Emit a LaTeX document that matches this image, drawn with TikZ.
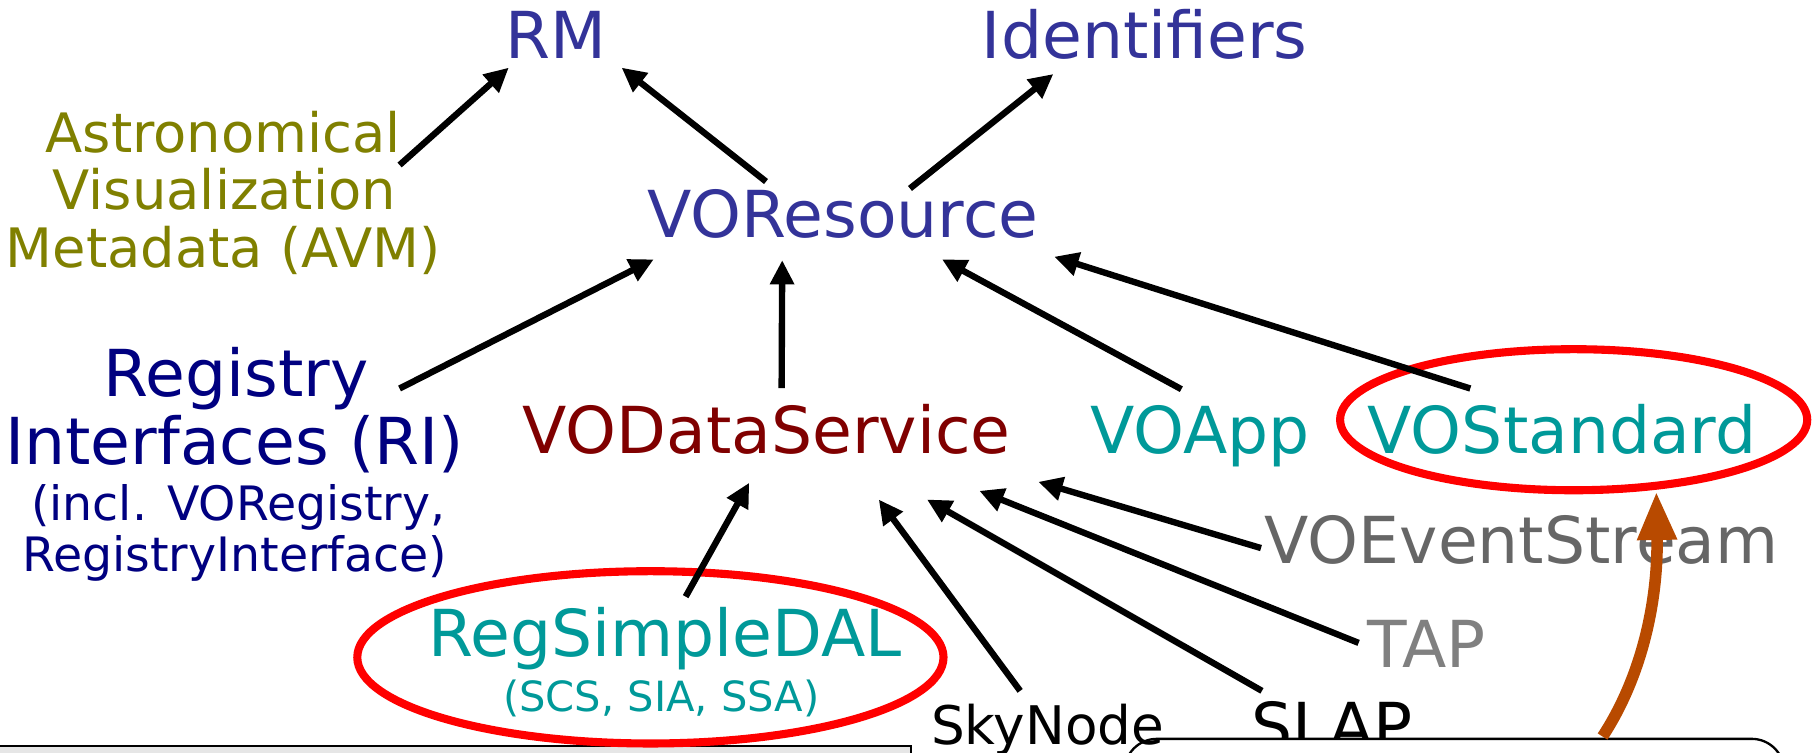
\documentclass[tikz,border=0pt]{standalone}
\usepackage{fontspec}
\setmainfont{DejaVu Sans}
\usetikzlibrary{arrows.meta}
\definecolor{voblue}{HTML}{333399}
\definecolor{avmolive}{HTML}{808000}
\definecolor{rinavy}{HTML}{000080}
\definecolor{dsmaroon}{HTML}{800000}
\definecolor{vteal}{HTML}{009999}
\definecolor{evgray}{HTML}{666666}
\definecolor{tapgray}{HTML}{808080}
\definecolor{ellred}{HTML}{FF0000}
\definecolor{curveorange}{HTML}{B84A00}
\definecolor{boxgray}{HTML}{E6E6E6}
\tikzset{
  lbl/.style={inner sep=0pt, outer sep=0pt, anchor=base, font=\fontsize{56}{60}\selectfont},
  lblavm/.style={lbl, font=\fontsize{47}{50}\selectfont, text=avmolive},
  lblsmall/.style={lbl, font=\fontsize{41}{44}\selectfont},
  arr/.style={line width=5.5pt, -{Triangle[length=21pt, width=20pt]}},
  ring/.style={draw=ellred, line width=7pt},
}
\begin{document}
\begin{tikzpicture}[x=1pt, y=-1pt]
\useasboundingbox (0,0) rectangle (1568,651);
\clip (0,0) rectangle (1568,651);
% bottom boxes (partly out of view)
\draw[fill=boxgray, line width=1.5pt] (-5,645) rectangle (788,720);
\node[lbl] (slap) at (1152,648) {SLAP};
\draw[fill=white, line width=2pt, rounded corners=28pt] (972.5,639) rectangle (1543,720);
% labels
\node[lbl, text=voblue] (rm) at (481,51) {RM};
\node[lbl, text=voblue] (ident) at (990,51) {Identifiers};
\node[lbl, text=voblue] (vores) at (729,205) {VOResource};
\node[lblavm] (avm1) at (193,132) {Astronomical};
\node[lblavm] (avm2) at (194,181) {Visualization};
\node[lblavm] (avm3) at (193,231) {Metadata (AVM)};
\node[lbl, text=rinavy] (reg1) at (204,343) {Registry};
\node[lbl, text=rinavy] (reg2) at (203,402) {Interfaces (RI)};
\node[lblsmall, text=rinavy] (reg3) at (206,450) {(incl. VORegistry,};
\node[lblsmall, text=rinavy] (reg4) at (203,494.5) {RegistryInterface)};
\node[lbl, text=dsmaroon] (vods) at (663,392) {VODataService};
\node[lbl, text=vteal] (voapp) at (1038,392) {VOApp};
\node[lbl, text=vteal] (vostd) at (1351,392) {VOStandard};
\node[lbl, text=evgray] (voevt) at (1316,487) {VOEventStream};
\node[lbl, text=tapgray] (tap) at (1234,577) {TAP};
\node[lbl, text=vteal] (rsdal) at (575,567.5) {RegSimpleDAL};
\node[lbl, text=vteal, font=\fontsize{36}{40}\selectfont] (scs) at (572,615.6) {(SCS, SIA, SSA)};
\node[lbl, font=\fontsize{46}{50}\selectfont] (skynode) at (906,643.6) {SkyNode};
% red rings
\draw[ring] (562.5,568.5) ellipse [x radius=253.5, y radius=74.5];
\draw[ring] (1361,363) ellipse [x radius=202, y radius=61];
% connectors
\draw[arr] ([shift={(152.6,10.7)}]avm1.base) -- ([shift={(-41,7.5)}]rm.base);
\draw[arr] ([shift={(-66.5,-48)}]vores.base) -- ([shift={(56.6,7.5)}]rm.base);
\draw[arr] ([shift={(58,-42)}]vores.base) -- ([shift={(-79,13)}]ident.base);
\draw[arr] ([shift={(141.6,-7)}]reg1.base) -- ([shift={(-163.6,19.3)}]vores.base);
\draw[arr] ([shift={(13,-56.3)}]vods.base) -- ([shift={(-52.5,20)}]vores.base);
\draw[arr] ([shift={(-16.3,-55.4)}]voapp.base) -- ([shift={(85.7,19.3)}]vores.base);
\draw[arr] ([shift={(-79.4,-56)}]vostd.base) -- ([shift={(182.8,17)}]vores.base);
\draw[arr] ([shift={(18,-51.5)}]rsdal.base) -- ([shift={(-15,25.5)}]vods.base);
\draw[arr] ([shift={(-23.7,-46.1)}]skynode.base) -- ([shift={(97,40)}]vods.base);
\draw[arr] ([shift={(-60.6,-50.5)}]slap.base) -- ([shift={(138.7,40)}]vods.base);
\draw[arr] ([shift={(-59,-21)}]tap.base) -- ([shift={(184,32.5)}]vods.base);
\draw[arr] ([shift={(-225.4,-13)}]voevt.base) -- ([shift={(235,24.7)}]vods.base);
% orange curved arrow
\coordinate (otail) at (1386,637);
\draw[curveorange, line width=10pt, -{Triangle[length=42pt, width=32pt]}]
  (otail) .. controls (1420,585) and (1434,520) .. ([shift={(81.5,33)}]vostd.base);
\end{tikzpicture}
\end{document}
